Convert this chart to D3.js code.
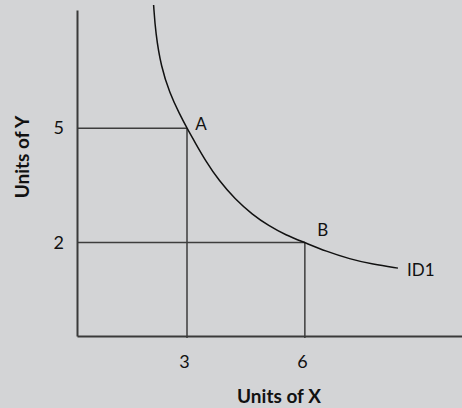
<!DOCTYPE html>
<html>
<head>
<meta charset="utf-8">
<script src="https://cdn.jsdelivr.net/npm/d3@7"></script>
<style>
  html, body { margin: 0; padding: 0; background: #d3d4d6; }
  svg { display: block; font-family: Lato, "Open Sans", sans-serif; }
</style>
</head>
<body>
<svg id="chart"></svg>
<script>
// indifference curve (units of X, units of Y)
const curveX = [2.15, 2.2, 2.34, 2.56, 2.81, 3, 3.22, 3.47, 3.81, 4.23, 4.66, 5.08, 5.51, 6, 6.54, 7.14, 7.73, 8.37];
const curveY = [8.23, 7.5, 6.61, 5.92, 5.37, 5, 4.6, 4.15, 3.63, 3.13, 2.74, 2.44, 2.2, 2, 1.77, 1.57, 1.43, 1.33];

const pointNames = ["A", "B"];
const pointX = [3, 6];
const pointY = [5, 2];

const xTicks = [3, 6];
const yTicks = [2, 5];
const curveLabel = "ID1";

const width = 462;
const height = 408;

const svg = d3.select("#chart")
  .attr("width", width)
  .attr("height", height)
  .attr("viewBox", [0, 0, width, height]);

const x = d3.scaleLinear().domain([0.2, 10]).range([77, 462]);
const y = d3.scaleLinear().domain([-0.45, 8.1]).range([336, 10]);

// guide lines from A and B to the axes
const guides = svg.append("g")
  .attr("stroke", "#3d3d3d")
  .attr("stroke-width", 1.5);

pointX.forEach((px, i) => {
  guides.append("line")
    .attr("x1", x.range()[0]).attr("x2", x(px))
    .attr("y1", y(pointY[i])).attr("y2", y(pointY[i]));
  guides.append("line")
    .attr("x1", x(px)).attr("x2", x(px))
    .attr("y1", y(pointY[i])).attr("y2", y.range()[0] + 2);
});

// the curve
const line = d3.line()
  .x((d, i) => x(curveX[i]))
  .y((d, i) => y(curveY[i]))
  .curve(d3.curveBasis);

svg.append("path")
  .attr("d", line(curveX))
  .attr("fill", "none")
  .attr("stroke", "#111")
  .attr("stroke-width", 1.5);

// axes
const xAxis = svg.append("g")
  .attr("transform", `translate(0,${y.range()[0]})`)
  .call(d3.axisBottom(x).tickValues(xTicks).tickSize(0).tickSizeOuter(0).tickPadding(19));

const yAxis = svg.append("g")
  .attr("transform", `translate(${x.range()[0]},0)`)
  .call(d3.axisLeft(y).tickValues(yTicks).tickSize(0).tickSizeOuter(0).tickPadding(13));

[xAxis, yAxis].forEach(a => {
  a.attr("font-size", null).attr("font-family", null);
  a.select(".domain").attr("stroke", "#3a3a3a").attr("stroke-width", 2);
  a.selectAll("text")
    .attr("fill", "#111")
    .style("font-family", "Lato, sans-serif")
    .style("font-size", "18px");
});
xAxis.selectAll("text").attr("dx", -3);

// point labels
const labelOffset = [[14, 2], [18, -7]];
svg.append("g")
  .selectAll("text")
  .data(pointNames)
  .join("text")
  .attr("x", (d, i) => x(pointX[i]) + labelOffset[i][0])
  .attr("y", (d, i) => y(pointY[i]) + labelOffset[i][1])
  .attr("text-anchor", "middle")
  .attr("fill", "#111")
  .style("font-size", "17px")
  .text(d => d);

svg.append("text")
  .attr("x", x(curveX[curveX.length - 1]) + 9)
  .attr("y", y(curveY[curveY.length - 1]) + 8)
  .attr("fill", "#111")
  .style("font-size", "17px")
  .text(curveLabel);

// axis titles
svg.append("text")
  .attr("x", 279)
  .attr("y", 403)
  .attr("text-anchor", "middle")
  .attr("fill", "#111")
  .style("font-size", "19px")
  .style("font-weight", "bold")
  .text("Units of X");

svg.append("text")
  .attr("transform", "translate(29,157) rotate(-90)")
  .attr("text-anchor", "middle")
  .attr("fill", "#111")
  .style("font-size", "19px")
  .style("font-weight", "bold")
  .text("Units of Y");
</script>
</body>
</html>
